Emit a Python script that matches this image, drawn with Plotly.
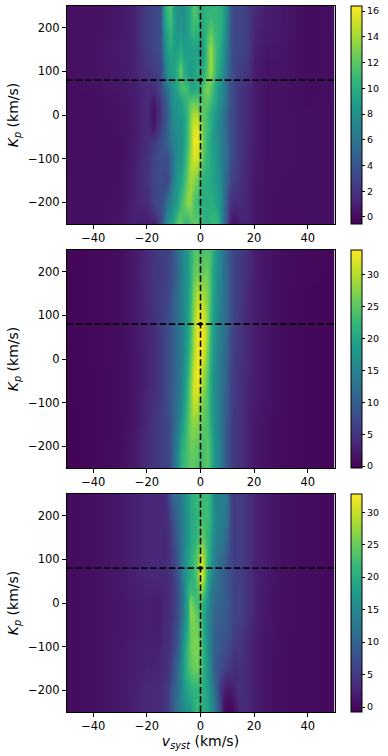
import plotly.graph_objects as go

vsyst = [-50,-40,-30,-25,-20,-17.5,
         -15,-13.75,-12.5,-11.25,-10,-8.75,-7.5,-6.25,-5,-3.75,-2.5,-1.25,0,1.25,2.5,3.75,5,6.25,7.5,8.75,10,11.25,12.5,
         15,17.5,20,25,30,40,50]
kp = [250,200,150,100,60,30,0,-30,-60,-100,-150,-200,-250]

snr_a = [
[.2,.2,.5,1,2.5,3, 3.5,9,11,12,9,8,8,7.5,9,10,12,11,10,10,10.5,10,10.5,10.5,10,9,7,4,3, 3,2.5,1.5,.8,.6,0,.2],
[.2,.2,.6,1,2.6,3, 3.5,8,10,11,9,8,8.5,8,9,10,11,10.5,10,10,11,12,11,10.5,10,9,6.5,4,3, 3,2.5,1.2,.8,.6,0,.2],
[.2,.3,.7,1,2.4,3, 3.5,6.5,9,9.5,9,9,10,9,9,9,9,9,8.5,9,12,14,12,10.5,9.5,8,6,4,3, 3,2.5,1,.5,.5,0,.1],
[.2,.3,.6,1,2,2.5, 3,5.5,8,9,9,10.5,12.5,10,9,8.5,9,10,10,10,12,14,12,10,9,7.5,5.5,4,3, 2.5,2,.8,.3,.4,0,.1],
[.1,.2,.5,.8,1.5,1.5, 3,4.5,6,7.5,8.5,9.5,11,11.5,11,9.5,9.5,10,10.5,12,13,12,10.5,9,8,7,5,3.5,3, 2,1.5,.8,.2,.3,0,.2],
[.1,.1,.4,.7,1.6,.6, 2.2,3.5,5,7,8,8.5,9,10,11,12,12.5,12,11.5,12,12,11,10,8.5,7.5,6.5,5,3.5,3, 2,1.5,.8,.2,.3,0,.2],
[.1,.1,.3,.6,1.6,.2, 2.2,3.2,4.5,6.5,8,8,8.5,9,11,13,14.5,14,12.5,12,11,10,9,8,7,6,4.5,3.5,3, 2,1.5,.8,.3,.3,.1,.2],
[.1,.1,.3,.6,1.6,.6, 2.5,3.5,5,6.5,7.5,8,8,9,11,13.5,15.5,15.5,14,12,11,10,8.5,7.5,7,6,4.5,3.5,3, 2,1.4,.8,.3,.3,.1,.2],
[.1,.1,.2,.7,1.6,2.2, 3.5,4,5,6,7,7.5,8,9,11,13.5,16,16,14.5,12,10.5,9.5,8.5,8,7,6,5,3.5,3, 2,1.3,.8,.3,.3,.1,.2],
[.1,.1,.2,.8,1.8,3, 3.5,3.5,3.5,5,6.5,8,8,9.5,12,14,15.5,15,13.5,11.5,10.5,9.5,9,8,7,6,5,3.5,3, 2,1.2,.7,.3,.3,.1,.2],
[.2,.1,.2,.9,2,3, 3.5,3,3,5,7,8.5,9,10.5,12.5,14,13.5,12.5,11,10,10,9.5,9,8.5,7.5,6,4.5,3,2.5, 1.8,1.2,.6,.3,.2,.1,.2],
[.2,.1,.3,1,1.5,3, 3.5,4,6,7,8,9,11,12,13.5,13.5,11.5,11,10,10,10,10,9.5,9,8,6,3.5,2,1.5, 1.5,1.2,.5,.3,.1,.1,.2],
[.2,.1,.4,1,.7,.8, 3,5,8,9,10,12,12.5,11,10.5,11.5,12,12,11,10.5,10,10.5,11,10.5,8,5.5,3,.5,.2, 1,1.2,.5,.3,.1,.1,.2],
]
snr_b = [
[.2,.4,1,2,3.5,5, 6,6,6.5,7,9,12,14,16,18,21,24,25,23,24,24,24,20,17,15,12,10,8,6.5, 5.5,4,2.5,1.5,1,.4,.3],
[.2,.4,1,2,4,5, 5.5,6,6.5,7.5,9,11,13.5,16,18,21,25,26,25,26,26,23,19,16.5,15,12.5,10.5,8,6.5, 5.5,4,2.5,1.5,1,.4,.3],
[.2,.4,1,2,3.5,5, 6,6.5,7,8,10,12,14,16,18,22,27,30,30,29,27,23,19,16,14.5,12.5,10.5,8,6.5, 5.5,3.5,2.5,1.5,.8,.3,.3],
[.2,.4,1,2,3.5,4.5, 6,6.5,7.5,8.5,10.5,12,14,16,19,23,28,32,33,31,27,22,18.5,16,14,12.5,10.5,8,6.5, 5,3.5,2.5,1.5,.8,.3,.3],
[.2,.4,1,1.8,3,4, 5.5,6.5,7.5,9,10.5,12,14,16,19,23,29,33,34,33,28,22,18,15.5,14,12.5,10.5,7.5,6, 5,3.5,2.5,1.5,.8,.3,.3],
[.2,.4,1,1.8,3,4, 5.5,6.5,7.5,9,10.5,12,14,16,19.5,24,29,33,34,32,27,21.5,18,15.5,14,12,10,7.5,6, 5,3.5,2.5,1.5,.8,.3,.3],
[.1,.4,.9,1.6,3,4, 5.5,6.5,7.5,9,10.5,12,14,16,20,25,30,33,33,31,26,21,17.5,15,13.5,12,10,7.5,5.5, 5,3.5,2.5,1.5,.8,.3,.3],
[.1,.3,.9,1.6,3,4, 5.5,6.5,7.5,9,10.5,12,14,16.5,21,26,31.5,33,32,29,25,20.5,17,15,13.5,11.5,9.5,7,5.5, 4.5,3.5,2.5,1.5,.8,.3,.3],
[.1,.3,.9,1.6,3,4, 5.5,6.5,7.5,9,10.5,12,14,17,22,27,32,33,31,28,24.5,20,17,15,13,11.5,9.5,7,5.5, 4.5,3,2.5,1.5,.8,.3,.3],
[.1,.3,.9,1.6,3.5,4.5, 5.5,6.5,7.5,9,11,12.5,15,18,23,27,31,30,28,26,24,20,17,15,13,11,9,7,5.5, 4.5,3,2.3,1.5,.8,.3,.3],
[0,.3,.9,1.8,3.5,5, 6,6.5,7,8.5,11,13.5,17,20,24,27,28,27,26,25,24,21,17.5,15,13,11,8.5,6.5,5.5, 4.5,3,2,1.3,.7,.3,.3],
[0,.3,1,2,4,5, 6,6.5,7,8,12,15,20,22,24,26,26,25,24,24,25,22,18,16,14,11,8.5,6.5,5.5, 4.5,3,2,1.3,.7,.3,.3],
[0,.3,1,2,4,5, 6,6,6.5,8,12.5,16,21,23,24,25,25,24,23,24,25,22,18,16,14,11,8.5,6.5,5.5, 4.5,3,2,1.3,.7,.3,.3],
]
snr_c = [
[.3,.7,1.5,2.3,2.8,3, 3,3,5.5,9,11,11,13,15,17,20,21,22,22,22,22,20,15,14,14,14,12,6,5, 5.5,4,2.5,1.5,.8,.2,.1],
[.3,.7,1.5,2.3,2.8,3, 3,3,4,6,8.5,10.5,12.5,14,17,19,20,21,23,22,22,20,16,14,14,13,11,6.5,5, 5.5,4,2.5,1.5,.8,.2,.1],
[.3,.7,1.5,2.3,2.8,3, 3,3,3.5,5,7,9,12,14,17,19,20,22,25,24,21,19,15,13.5,13,12,9.5,6.5,5, 5.5,4,2.5,1.5,.8,.2,.1],
[.3,.7,1.5,2.3,2.8,3, 3,3,3.5,4.5,6,8,12,15,18,20,22,25,31,28,21,18,14,12,11,10,8,6.5,5, 5.5,4,2.5,1.5,.8,.2,.1],
[.3,.7,1.5,2.2,2.8,3, 3,3,3.5,4,5.5,7.5,11,15,18,20,21,25,33,28,19,16,13,11.5,10,9,8,7,5.5, 5.5,4,2.5,1.5,.7,.2,.1],
[.3,.7,1.4,2,2.5,2.5, 2.5,3,3,4,5,7.5,10,14,20,22,21,23,28,24,18,14,12,11,10,9.5,8,7,5.5, 6,4,2.5,1.3,.7,.2,.1],
[.3,.7,1.3,1.8,2.2,2, 2,3,3,4,5,7,10,14,19,27,24,22,23,20,16,13,11,10,9.5,9.5,8.5,7,6, 6,4,2.5,1.3,.7,.2,.1],
[.3,.7,1.3,1.8,2.2,2, 2,3,3,4,5,7,10.5,14,19,27,26,24,23,19,15,12.5,10.5,9.5,9,9,8,7,6, 6,4,2.5,1.3,.7,.2,.1],
[.3,.7,1.3,1.8,2.2,2, 2,3,3.5,4,6,7.5,11.5,15,20,25,26,25,24,19,15,13,10.5,9,8.5,8.5,8,7,5.5, 5,3.5,2,1.3,.6,.2,.1],
[.3,.7,1.4,1.9,2.3,2.2, 2.5,3.5,3.5,4.5,6,8.5,13,17,22,25,26,26,24,20,16,13,10,9,8,7.5,7,6,4.5, 4.5,3,2,1,.6,.2,.1],
[.3,.7,1.5,2,2.6,2.5, 3,3.5,4,5.5,8,10.5,14,18,22,24,25,25,24,20,17,14,9.5,8,7,6,5,4.5,3.5, 4,3,2,1,.5,.2,.1],
[.3,.7,1.6,2.2,3,3, 3.5,4,5,7,9,11,14,17,19,20,21,21,21,20,18,15,12,8,4,2.5,1.5,1.5,2.5, 4,3,2,1,.5,.2,.1],
[.3,.7,1.6,2.3,3.2,3, 3.5,4,5.5,7.5,10,12,14,15,16,17,20,22,21,20,19,17,14,10,6,.5,-.3,-.5,.8, 3.2,3,2,1,.5,.2,.1],
]
panels = [snr_a, snr_b, snr_c]
z_limits = [(-0.55, 16.4), (-0.3, 33.9), (-0.77, 32.8)]
cbar_ticks = [[0,2,4,6,8,10,12,14,16], [0,5,10,15,20,25,30], [0,5,10,15,20,25,30]]
x_ticks = [-40,-20,0,20,40]
y_ticks = [-200,-100,0,100,200]
kp_true = 80
v_true = 0

W, H = 388, 756
FONT = "DejaVu Sans"
tops = [6, 250, 494]
bottoms = [224, 468, 712]
fig = go.Figure()
for i, z in enumerate(panels):
    assert all(len(r) == len(vsyst) for r in z) and len(z) == len(kp)
    s = "" if i == 0 else str(i + 1)
    dom = [1 - bottoms[i] / H, 1 - tops[i] / H]
    fig.add_trace(go.Heatmap(
        x=vsyst, y=kp, z=z, xaxis="x" + s, yaxis="y" + s,
        colorscale="Viridis", zmin=z_limits[i][0], zmax=z_limits[i][1], zsmooth="best",
        colorbar=dict(x=351 / W, xanchor="left", xpad=0, ypad=0, thickness=11, thicknessmode="pixels",
                      y=(dom[0] + dom[1]) / 2, yanchor="middle", len=dom[1] - dom[0], lenmode="fraction",
                      outlinewidth=1, outlinecolor="black", tickvals=cbar_ticks[i], ticks="outside",
                      ticklen=3, tickwidth=1, tickcolor="black",
                      tickfont=dict(family=FONT, size=9.5, color="black")),
    ))
    fig.add_trace(go.Scatter(x=[v_true, v_true], y=[-250, 250], mode="lines", xaxis="x" + s, yaxis="y" + s,
                             line=dict(color="black", width=1.6, dash="6.5px,2.8px"), showlegend=False))
    fig.add_trace(go.Scatter(x=[-50, 50], y=[kp_true, kp_true], mode="lines", xaxis="x" + s, yaxis="y" + s,
                             line=dict(color="black", width=1.6, dash="6.5px,2.8px"), showlegend=False))
    fig.add_trace(go.Scatter(x=[v_true], y=[kp_true], mode="markers", xaxis="x" + s, yaxis="y" + s,
                             marker=dict(symbol="circle", color="black", size=4), showlegend=False))
    common = dict(showline=True, mirror=True, linecolor="black", linewidth=1, ticks="outside", ticklen=3.5,
                  tickwidth=1, tickcolor="black", showgrid=False, zeroline=False,
                  tickfont=dict(family=FONT, size=11.5, color="black"))
    fig.update_layout({
        "xaxis" + s: dict(domain=[66.5 / W, 334.5 / W], range=[-50, 50], tickvals=x_ticks, anchor="y" + s, **common,
                          title=dict(text="<i>v<sub>syst</sub></i> (km/s)", standoff=2,
                                     font=dict(family=FONT, size=14, color="black")) if i == 2 else None),
        "yaxis" + s: dict(domain=dom, range=[-250, 250], tickvals=y_ticks, anchor="x" + s, **common,
                          title=dict(text="<i>K<sub>p</sub></i> (km/s)", standoff=6,
                                     font=dict(family=FONT, size=14, color="black"))),
    })
fig.update_layout(width=W, height=H, margin=dict(l=0, r=0, t=0, b=0), paper_bgcolor="white",
                  plot_bgcolor="white", showlegend=False)
fig.write_html("out.html", config={"displayModeBar": False}, post_script="document.body.style.margin='0';")
